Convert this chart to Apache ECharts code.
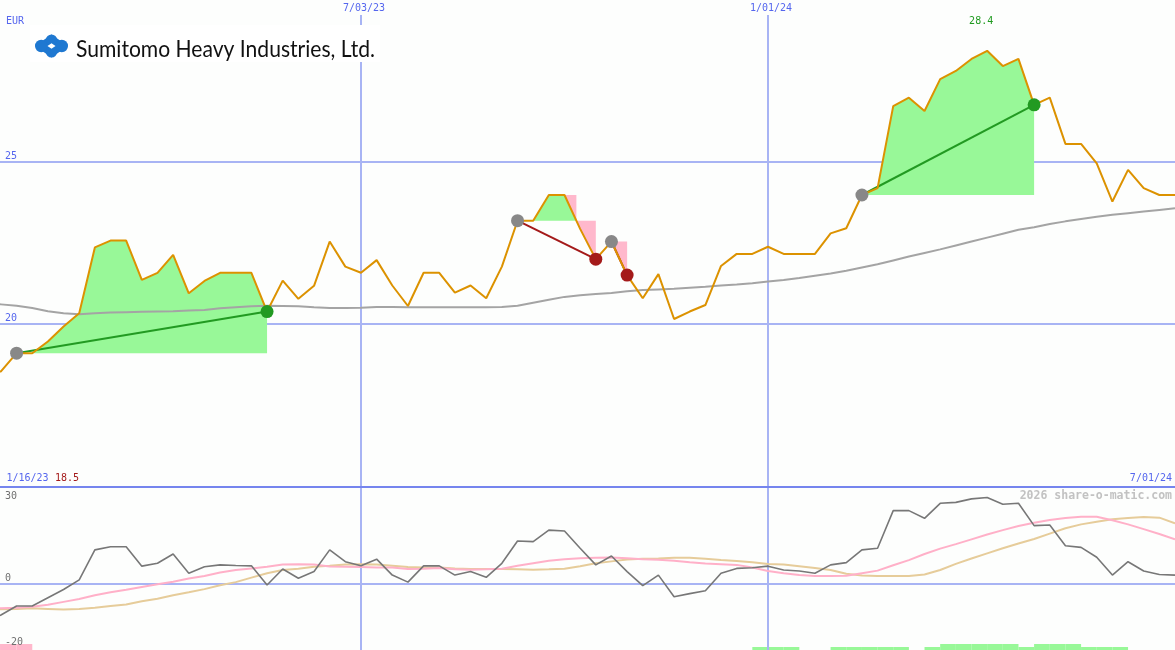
<!DOCTYPE html>
<html><head><meta charset="utf-8">
<script src="https://cdn.jsdelivr.net/npm/echarts@6/dist/echarts.min.js"></script>
<style>html,body{margin:0;padding:0;background:#fdfefd}#c{width:1175px;height:650px}</style>
</head><body><div id="c"></div>
<script>
// ---------- data (weekly, index 0 = 1/16/23, index 76 = 7/01/24) ----------
const company = 'Sumitomo Heavy Industries, Ltd.';
const currency = 'EUR';
const startDate = '1/16/23';
const endDate = '7/01/24';
const watermark = '2026 share-o-matic.com';
const dateTickWeeks = [24, 50];
const dateTickLabels = ['7/03/23', '1/01/24'];
const priceTicks = [20, 25];
const indTicks = [30, 0, -20];

const price = [18.50,18.55,19.11,19.11,19.47,19.93,20.34,22.36,22.57,22.57,
 21.36,21.58,22.13,20.95,21.33,21.58,21.58,21.58,20.39,21.34,
 20.78,21.18,22.54,21.77,21.58,21.97,21.19,20.56,21.58,21.58,
 20.97,21.19,20.80,21.77,23.18,23.18,23.97,23.97,22.93,22.00,
 22.54,21.51,20.80,21.54,20.16,20.39,20.59,21.79,22.16,22.16,
 22.38,22.16,22.16,22.16,22.79,22.95,23.97,24.18,26.70,26.96,
 26.55,27.53,27.78,28.15,28.40,27.93,28.15,26.74,26.96,25.54,
 25.54,24.94,23.77,24.74,24.18,23.97,23.97];

const movingAvg = [20.63,20.61,20.57,20.50,20.40,20.34,20.31,20.34,20.36,20.37,
 20.38,20.39,20.40,20.42,20.44,20.49,20.52,20.55,20.57,20.56,
 20.55,20.52,20.50,20.50,20.51,20.53,20.53,20.52,20.52,20.52,
 20.52,20.52,20.52,20.53,20.57,20.66,20.75,20.84,20.89,20.93,
 20.96,21.01,21.05,21.07,21.09,21.12,21.15,21.19,21.22,21.26,
 21.31,21.36,21.42,21.49,21.56,21.64,21.74,21.84,21.96,22.08,
 22.19,22.30,22.42,22.54,22.66,22.78,22.90,22.98,23.08,23.16,
 23.23,23.30,23.36,23.41,23.46,23.51,23.56];

const momentum = [-12.0,-9.8,-7.0,-7.0,-4.4,-1.8,1.2,10.6,11.6,11.6,
 5.5,6.4,9.3,3.3,5.3,5.9,5.7,5.6,-0.4,4.6,
 1.7,3.8,10.6,6.9,5.6,7.7,2.7,0.5,5.6,5.6,
 2.7,3.8,2.0,6.4,13.4,13.2,16.8,16.5,11.1,5.9,
 8.7,3.8,-0.6,2.7,-4.1,-3.1,-2.2,3.3,4.8,5.0,
 5.5,4.3,4.0,3.3,5.9,6.6,10.6,11.1,22.9,22.9,
 20.5,25.2,25.5,26.6,27.0,24.9,25.2,18.2,18.4,11.9,
 11.4,8.3,2.7,6.9,4.0,2.9,2.7];

const signalPink = [-7.8,-7.7,-7.5,-7.2,-6.6,-5.7,-4.8,-3.6,-2.7,-1.9,
 -1.0,-0.2,0.6,1.6,2.4,3.5,4.3,4.8,5.3,6.0,
 6.1,6.0,5.4,5.3,5.2,5.1,5.1,4.6,4.7,4.9,
 4.5,4.4,4.5,4.7,5.6,6.4,7.2,7.7,8.0,8.1,
 8.2,8.0,7.7,7.5,7.2,6.7,6.3,6.1,5.9,5.1,
 4.0,3.3,2.7,2.4,2.4,2.5,3.3,4.1,5.8,7.4,
 9.3,11.0,12.4,13.9,15.4,16.8,18.1,19.1,20.0,20.6,
 21.0,21.0,19.9,18.6,17.1,15.6,13.9];

const signalTan = [-8.0,-8.0,-7.9,-7.7,-7.9,-8.1,-7.9,-7.5,-7.0,-6.5,
 -5.5,-4.7,-3.6,-2.7,-1.7,-0.5,0.5,1.9,3.3,4.3,
 4.7,5.3,5.6,6.0,6.1,6.0,5.6,5.2,5.1,5.1,
 4.8,4.6,4.6,4.6,4.5,4.4,4.5,4.7,5.5,6.4,
 7.0,7.6,7.8,7.9,8.1,8.1,7.8,7.4,7.1,6.7,
 6.2,6.0,5.5,4.9,4.3,3.1,2.6,2.4,2.4,2.4,
 2.9,4.3,6.2,7.9,9.5,11.1,12.6,14.0,15.7,17.4,
 18.6,19.4,20.2,20.6,20.9,20.7,18.9];

// histogram strip levels per week
const histGreen = [0,0,0,0,0,0,0,0,0,0, 0,0,0,0,0,0,0,0,0,0,
 0,0,0,0,0,0,0,0,0,0, 0,0,0,0,0,0,0,0,0,0,
 0,0,0,0,0,0,0,0,0,1, 1,1,0,0,1,1,1,1,1,0,
 1,2,2,2,2,2,1,2,2,2, 1,1,1,0,0,0,0];
const histPink = [2,2,2,0,0,0,0,0,0,0, 0,0,0,0,0,0,0,0,0,0,
 0,0,0,0,0,0,0,0,0,0, 0,0,0,0,0,0,0,0,0,0,
 0,0,0,0,0,0,0,0,0,0, 0,0,0,0,0,0,0,0,0,0,
 0,0,0,0,0,0,0,0,0,0, 0,0,0,0,0,0,0];

// trades: [entry week, exit week]
const trades = [[2,18],[34,39],[40,41],[56,67]];

// ---------- styles ----------
const C = {
  bg:'#fdfefd', grid:'#a8b4f4', sep:'#7585ee', label:'#5566ee', axisGray:'#707070',
  price:'#dc9200', ma:'#a4a4a4', green:'#98f898', pink:'#ffb8cc',
  win:'#229a22', loss:'#a41a1a', entry:'#888888',
  mom:'#777777', sigPink:'#ffb0c8', sigTan:'#e6cc9a', maxLbl:'#1f9a1f', minLbl:'#a41a1a',
  wm:'#c2c2c2', logo:'#1f78d1'
};
const FONT = '10px "DejaVu Sans Mono"';
const X0 = 0.94, X1 = 76;
const Y0MIN = 15, Y0MAX = 29.96, Y1MIN = -20.78, Y1MAX = 30;

const chart = echarts.init(document.getElementById('c'));
const pairs = a => a.map((v,k)=>[k,v]);

function renderFill(params, api) {
  const t = trades[params.dataIndex];
  const a = t[0], b = t[1], e = price[a];
  const P = (x,y) => api.coord([x,y]);
  const kids = [];
  const poly = (pts, fill) => kids.push({type:'polygon', shape:{points:pts}, style:{fill:fill}, silent:true});
  // sample path with crossings inserted
  const path = [[a, price[a]]];
  for (let k=a; k<b; k++) {
    const q0 = price[k], q1 = price[k+1];
    if ((q0-e)*(q1-e) < 0) {
      const kc = k + (e-q0)/(q1-q0);
      path.push([kc, e]);
      if (q0 > e) poly([P(k,q0),P(kc,q0),P(kc,e)], C.pink); // falling-through wedge
    }
    path.push([k+1, q1]);
  }
  // split into same-sign regions
  let region = [path[0]], sign = 0;
  const flush = () => {
    if (region.length > 1 && sign !== 0) {
      const pts = region.map(p=>P(p[0],p[1]));
      pts.push(P(region[region.length-1][0], e), P(region[0][0], e));
      poly(pts, sign > 0 ? C.green : C.pink);
    }
  };
  for (let i=1; i<path.length; i++) {
    const p = path[i];
    const s = p[1] > e ? 1 : (p[1] < e ? -1 : 0);
    if (s !== 0 && sign !== 0 && s !== sign) {
      flush();
      region = [region[region.length-1]];
    }
    if (s !== 0) sign = s;
    region.push(p);
  }
  flush();
  return {type:'group', children:kids};
}

const tradeLines = trades.map(t => ({
  coords: [[t[0], price[t[0]]], [t[1], price[t[1]]]],
  lineStyle: {color: price[t[1]] >= price[t[0]] ? C.win : C.loss}
}));

const option = {
  backgroundColor: C.bg,
  animation: false,
  grid: [
    {left:0, right:0, top:0, height:487},
    {left:0, right:0, top:488, height:162},
    {left:0, right:0, top:630, height:20}
  ],
  xAxis: [0,1,2].map(i => ({type:'value', gridIndex:i, min:X0, max:X1, show:false})),
  yAxis: [
    {type:'value', gridIndex:0, min:Y0MIN, max:Y0MAX, show:false},
    {type:'value', gridIndex:1, min:Y1MIN, max:Y1MAX, show:false},
    {type:'value', gridIndex:2, min:0, max:20/3, show:false}
  ],
  series: [
    {type:'lines', coordinateSystem:'cartesian2d', xAxisIndex:0, yAxisIndex:0, z:0, silent:true,
     lineStyle:{color:C.grid, width:2, opacity:1},
     data: priceTicks.map(v=>({coords:[[X0,v],[X1,v]]}))
       .concat(dateTickWeeks.map(k=>({coords:[[k,29.5],[k,Y0MIN]]})))},
    {type:'lines', coordinateSystem:'cartesian2d', xAxisIndex:0, yAxisIndex:0, z:5, silent:true,
     lineStyle:{color:C.sep, width:2, opacity:1},
     data:[{coords:[[X0,Y0MIN],[X1,Y0MIN]]}]},
    {type:'lines', coordinateSystem:'cartesian2d', xAxisIndex:1, yAxisIndex:1, z:0, silent:true,
     lineStyle:{color:C.grid, width:2, opacity:1},
     data:[{coords:[[X0,0],[X1,0]]}]},
    {type:'lines', coordinateSystem:'cartesian2d', xAxisIndex:1, yAxisIndex:1, z:2, silent:true,
     lineStyle:{color:C.grid, width:2, opacity:1},
     data: dateTickWeeks.map(k=>({coords:[[k,Y1MAX],[k,Y1MIN]]}))},
    {type:'bar', xAxisIndex:2, yAxisIndex:2, z:1, barWidth:15.7, silent:true,
     itemStyle:{color:C.green},
     data: histGreen.map((v,k)=> v ? [k+0.5, v] : null).filter(Boolean)},
    {type:'bar', xAxisIndex:2, yAxisIndex:2, z:1, barWidth:15.7, barGap:'-100%', silent:true,
     itemStyle:{color:C.pink},
     data: histPink.map((v,k)=> v ? [k+0.5, v] : null).filter(Boolean)},
    {type:'custom', xAxisIndex:0, yAxisIndex:0, z:1, silent:true, renderItem:renderFill,
     data: trades.map(t=>[t[0], price[t[0]]])},
    {type:'line', xAxisIndex:0, yAxisIndex:0, z:2, symbol:'none', silent:true,
     lineStyle:{color:C.ma, width:2}, data: pairs(movingAvg)},
    {type:'lines', coordinateSystem:'cartesian2d', xAxisIndex:0, yAxisIndex:0, z:3, silent:true,
     lineStyle:{width:2, opacity:1}, data: tradeLines},
    {type:'line', xAxisIndex:0, yAxisIndex:0, z:4, symbol:'none', silent:true,
     lineStyle:{color:C.price, width:2}, data: pairs(price)},
    {type:'scatter', xAxisIndex:0, yAxisIndex:0, z:6, symbolSize:13, silent:true,
     itemStyle:{color:C.entry, opacity:1},
     data: trades.map(t=>[t[0], price[t[0]]])},
    {type:'scatter', xAxisIndex:0, yAxisIndex:0, z:6, symbolSize:13, silent:true,
     itemStyle:{opacity:1},
     data: trades.map(t=>({value:[t[1], price[t[1]]],
       itemStyle:{color: price[t[1]] >= price[t[0]] ? C.win : C.loss}}))},
    {type:'line', xAxisIndex:1, yAxisIndex:1, z:3, symbol:'none', silent:true,
     lineStyle:{color:C.sigTan, width:2}, data: pairs(signalTan)},
    {type:'line', xAxisIndex:1, yAxisIndex:1, z:3, symbol:'none', silent:true,
     lineStyle:{color:C.sigPink, width:2}, data: pairs(signalPink)},
    {type:'line', xAxisIndex:1, yAxisIndex:1, z:4, symbol:'none', silent:true,
     lineStyle:{color:C.mom, width:1.6}, data: pairs(momentum)}
  ]
};
chart.setOption(option);

// ---------- text & logo, positioned through the chart's scales ----------
const p0 = (x,y)=>chart.convertToPixel({xAxisIndex:0, yAxisIndex:0}, [x,y]);
const p1 = (x,y)=>chart.convertToPixel({xAxisIndex:1, yAxisIndex:1}, [x,y]);
const txt = (s, x, y, fill, align, font, z) => ({
  type:'text', x:x, y:y, z:z||20, silent:true,
  style:{text:s, fill:fill, font:font||FONT, align:align||'left', verticalAlign:'middle',
         textAlign:align||'left', textVerticalAlign:'middle'}
});
const g = [];
g.push(txt(currency, 6, 21.5, C.label));
priceTicks.forEach(v => g.push(txt(String(v), 5, p0(X0,v)[1]-5.5, C.label)));
indTicks.forEach(v => {
  const y = Math.max(p1(X0,v)[1]-5.2, 496.5);
  g.push(txt(String(v), 5, y, C.axisGray));
});
dateTickWeeks.forEach((k,i) => g.push(txt(dateTickLabels[i], p0(k,Y0MAX)[0]+3, 8.5, C.label, 'center')));
g.push(txt(startDate, 6.5, 478.5, C.label));
const minVal = Math.min(...price);
g.push(txt(minVal.toFixed(1), 55, 478.5, C.minLbl));
g.push(txt(endDate, 1172, 478.5, C.label, 'right'));
g.push(txt(watermark, 1172, 496.5, C.wm, 'right', 'bold 11.5px "DejaVu Sans Mono"'));
const maxVal = Math.max(...price);
const kMax = price.indexOf(maxVal);
g.push(txt(maxVal.toFixed(1), p0(kMax,maxVal)[0]-6, 21, C.maxLbl, 'center'));

// logo
g.push({type:'rect', z:30, silent:true, shape:{x:30, y:25, width:350, height:37}, style:{fill:'#ffffff'}});
g.push({type:'polygon', z:31, silent:true, shape:{points:[[35,46],[51.5,34.5],[68,46],[51.5,57.5]]}, style:{fill:C.logo}});
[[41.2,46,6.2],[61.8,46,6.2],[51.5,40,5.6],[51.5,52,5.6]].forEach(c =>
  g.push({type:'circle', z:31, silent:true, shape:{cx:c[0], cy:c[1], r:c[2]}, style:{fill:C.logo}}));
g.push({type:'polygon', z:32, silent:true, shape:{points:[[47.5,46],[51.5,43.3],[55.5,46],[51.5,48.7]]}, style:{fill:'#ffffff'}});
const LOGO_FONT = '24px Lato';
const mctx = document.createElement('canvas').getContext('2d');
mctx.font = LOGO_FONT;
const sx = 299 / mctx.measureText(company).width;
g.push({type:'text', x:76, y:49, scaleX:sx, z:33, silent:true,
  style:{text:company, fill:'#111111', font:LOGO_FONT, align:'left', verticalAlign:'middle',
         textAlign:'left', textVerticalAlign:'middle'}});

chart.setOption({graphic: g});
</script>
</body></html>
